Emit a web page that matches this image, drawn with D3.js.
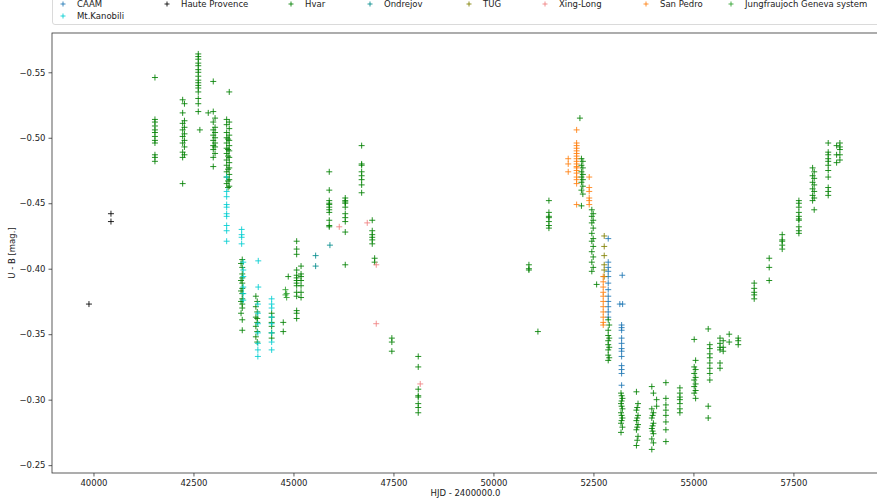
<!DOCTYPE html>
<html>
<head>
<meta charset="utf-8">
<script src="https://cdn.jsdelivr.net/npm/d3@7"></script>
<style>
  html, body { margin: 0; padding: 0; background: #fff; }
  svg { display: block; font-family: "DejaVu Sans", sans-serif; }
</style>
</head>
<body>
<svg id="chart" width="877" height="504"></svg>
<script>
// U - B colour index of the star, by observatory.
// Each entry: [HJD - 2400000, [U-B values observed in that season]]
const hauteProvence = [
  [39887, [-0.373]],
  [40437, [-0.442, -0.436]]
];

const hvar = [
  [41537, [-0.546, -0.514, -0.512, -0.509, -0.506, -0.504, -0.501, -0.498, -0.496, -0.487, -0.485, -0.482]],
  [42230, [-0.529, -0.519, -0.511, -0.506, -0.501, -0.496, -0.489, -0.485, -0.465]],
  [42275, [-0.526, -0.513, -0.508, -0.503, -0.498, -0.493, -0.487]],
  [42620, [-0.564, -0.562, -0.560, -0.557, -0.555, -0.552, -0.550, -0.547, -0.544, -0.542, -0.540, -0.538, -0.535, -0.530, -0.526, -0.520]],
  [42660, [-0.506]],
  [42870, [-0.519]],
  [42995, [-0.543, -0.520, -0.512, -0.506, -0.502, -0.498, -0.494, -0.491, -0.485, -0.478]],
  [43040, [-0.515, -0.508, -0.504, -0.500, -0.496, -0.493, -0.488]],
  [43330, [-0.514, -0.510, -0.504, -0.500, -0.496, -0.492, -0.488, -0.483, -0.479, -0.474, -0.470, -0.465]],
  [43395, [-0.535, -0.512, -0.507, -0.502, -0.498, -0.494, -0.490, -0.485, -0.481, -0.477, -0.472, -0.468, -0.463]],
  [43365, [-0.499, -0.491, -0.486, -0.476, -0.467, -0.462]],
  [43690, [-0.404, -0.391, -0.383, -0.375, -0.366]],
  [43720, [-0.407, -0.401, -0.396, -0.393, -0.389, -0.385, -0.381, -0.377, -0.373, -0.370, -0.361, -0.353]],
  [44060, [-0.379, -0.371, -0.363, -0.356, -0.348]],
  [44095, [-0.367, -0.359, -0.352, -0.344, -0.375, -0.362]],
  [44455, [-0.366, -0.363, -0.359, -0.356, -0.351, -0.347]],
  [44745, [-0.359, -0.352]],
  [44870, [-0.394]],
  [45080, [-0.421, -0.415, -0.411, -0.399, -0.395, -0.393, -0.391, -0.389, -0.387, -0.382, -0.379, -0.368, -0.366, -0.362]],
  [45190, [-0.402, -0.396, -0.394, -0.391, -0.387, -0.382, -0.378]],
  [45895, [-0.474, -0.460, -0.452, -0.450, -0.449, -0.447, -0.445, -0.443, -0.437, -0.433, -0.432]],
  [46295, [-0.454, -0.452, -0.451, -0.450, -0.447, -0.442, -0.439, -0.436, -0.428, -0.403]],
  [46705, [-0.494, -0.480, -0.479, -0.474, -0.471, -0.468, -0.464, -0.458]],
  [46970, [-0.437, -0.429, -0.426, -0.424, -0.422, -0.419]],
  [47030, [-0.408, -0.405]],
  [47460, [-0.347, -0.344, -0.337]],
  [48120, [-0.333, -0.325, -0.308, -0.303, -0.302, -0.297, -0.294, -0.290]],
  [50887, [-0.403, -0.400, -0.399]],
  [51112, [-0.352]],
  [51387, [-0.452, -0.443, -0.440, -0.439, -0.436, -0.433, -0.431]],
  [52162, [-0.515]],
  [52200, [-0.484, -0.479, -0.474, -0.470, -0.466, -0.460, -0.448]],
  [52235, [-0.482, -0.477, -0.472, -0.468, -0.463, -0.457]],
  [52460, [-0.445, -0.440, -0.435, -0.427, -0.421, -0.413, -0.405, -0.398]],
  [52495, [-0.442, -0.437, -0.431, -0.423, -0.417, -0.409, -0.401]],
  [52580, [-0.388]],
  [52870, [-0.361, -0.353, -0.349, -0.345, -0.342, -0.338, -0.334, -0.330]],
  [52895, [-0.357, -0.347, -0.340, -0.332]],
  [53190, [-0.305, -0.297, -0.290, -0.282, -0.275]],
  [53225, [-0.301, -0.293, -0.286, -0.279]],
  [53205, [-0.303, -0.299, -0.295, -0.288, -0.284]],
  [53575, [-0.306, -0.292, -0.284, -0.277, -0.265]],
  [53615, [-0.297, -0.288, -0.281, -0.272]],
  [53595, [-0.294, -0.286, -0.279, -0.269]],
  [53960, [-0.310, -0.293, -0.286, -0.278, -0.270, -0.262]],
  [54000, [-0.305, -0.290, -0.282, -0.274, -0.267]],
  [53980, [-0.288, -0.280, -0.276]],
  [54080, [-0.300, -0.295]],
  [54312, [-0.313, -0.301, -0.296, -0.292, -0.288, -0.283, -0.277, -0.268]],
  [54662, [-0.309, -0.305, -0.302, -0.300, -0.297, -0.293, -0.290]],
  [55020, [-0.346, -0.325, -0.320, -0.315, -0.310, -0.305]],
  [55055, [-0.330, -0.323, -0.317, -0.312, -0.307, -0.301]],
  [55370, [-0.354, -0.295, -0.286]],
  [55410, [-0.342, -0.339, -0.335, -0.332, -0.328, -0.324, -0.320, -0.315]],
  [55665, [-0.347, -0.343, -0.340, -0.338, -0.328, -0.324]],
  [55745, [-0.345, -0.340, -0.337]],
  [55895, [-0.350, -0.344]],
  [56120, [-0.347, -0.345, -0.342]],
  [56520, [-0.389, -0.385, -0.382, -0.380, -0.377]],
  [56895, [-0.408, -0.401, -0.391]],
  [57220, [-0.426, -0.422, -0.421, -0.418, -0.415]],
  [57637, [-0.452, -0.450, -0.447, -0.443, -0.440, -0.438, -0.437, -0.432, -0.429, -0.427]],
  [57980, [-0.477, -0.471, -0.466, -0.461, -0.456, -0.452]],
  [58020, [-0.474, -0.469, -0.464, -0.459, -0.454, -0.445]],
  [58370, [-0.496, -0.489, -0.487, -0.484, -0.482, -0.479, -0.475, -0.470, -0.462, -0.459, -0.456]],
  [58580, [-0.494, -0.487, -0.481]],
  [58662, [-0.496, -0.493, -0.491, -0.487, -0.483]]
];

const jungfraujoch = [
  [44800, [-0.384, -0.380]],
  [44830, [-0.381, -0.378]]
];

const mtKanobili = [
  [43330, [-0.470, -0.459, -0.455, -0.449, -0.447, -0.442, -0.440, -0.433, -0.429, -0.421]],
  [43705, [-0.430, -0.426, -0.424, -0.419]],
  [43745, [-0.405, -0.399, -0.394, -0.386, -0.381, -0.376]],
  [44120, [-0.406, -0.386]],
  [44110, [-0.373, -0.366, -0.358, -0.351, -0.343, -0.338, -0.333]],
  [44455, [-0.377, -0.373, -0.370, -0.363, -0.358, -0.351, -0.344, -0.338]]
];

const ondrejov = [
  [45555, [-0.410, -0.402]],
  [45912, [-0.418]]
];

const xingLong = [
  [46145, [-0.432]],
  [46845, [-0.435]],
  [47070, [-0.403, -0.358]],
  [48170, [-0.312]]
];

const sanPedro = [
  [51870, [-0.484, -0.480, -0.474]],
  [52080, [-0.506, -0.496, -0.494, -0.492, -0.490, -0.488, -0.486, -0.484, -0.482, -0.480, -0.478, -0.477, -0.475, -0.473, -0.470, -0.468, -0.465, -0.449]],
  [52395, [-0.470, -0.462, -0.459, -0.454, -0.452, -0.449]],
  [52745, [-0.394, -0.390, -0.386, -0.382, -0.379, -0.375, -0.371, -0.367, -0.363, -0.359, -0.357]]
];

const tug = [
  [52770, [-0.425, -0.417, -0.410, -0.403, -0.399, -0.394]]
];

const caam = [
  [52870, [-0.423, -0.405, -0.401, -0.398, -0.394, -0.389, -0.384, -0.379, -0.375, -0.371, -0.367, -0.363]],
  [53220, [-0.395]],
  [53160, [-0.373]],
  [53230, [-0.373]],
  [53205, [-0.357, -0.355, -0.353, -0.347, -0.343, -0.339, -0.337, -0.333, -0.326, -0.323, -0.320, -0.311]]
];

const seriesNames = ["CAAM", "Haute Provence", "Hvar", "Ondrejov", "TUG", "Xing-Long", "San Pedro", "Jungfraujoch Geneva system", "Mt.Kanobili"];
const seriesColors = ["#1f77b4", "#000000", "#008000", "#008b8b", "#808000", "#f08080", "#ff7f0e", "#2ca02c", "#00ced1"];
const seriesData = [caam, hauteProvence, hvar, ondrejov, tug, xingLong, sanPedro, jungfraujoch, mtKanobili];

const xTicks = [40000, 42500, 45000, 47500, 50000, 52500, 55000, 57500];
const yTicks = [-0.55, -0.50, -0.45, -0.40, -0.35, -0.30, -0.25];

// Layout
const plot = { left: 52, top: 33, right: 879, bottom: 473 };

const svg = d3.select("#chart");

const x = d3.scaleLinear().domain([38963, 59640]).range([plot.left, plot.right]);
const y = d3.scaleLinear().domain([-0.58, -0.244]).range([plot.top, plot.bottom]);

const fmtY = d3.format(".2f");

// "+" marker path
const plusPath = (cx, cy, r) => `M${cx - r},${cy}H${cx + r}M${cx},${cy - r}V${cy + r}`;

const marks = svg.append("g");
seriesData.forEach((ser, i) => {
  const pts = [];
  ser.forEach(([hjd, vals]) => vals.forEach(v => pts.push([hjd, v])));
  marks.append("g")
    .selectAll("path")
    .data(pts)
    .join("path")
    .attr("d", d => plusPath(x(d[0]), y(d[1]), 3))
    .attr("stroke", seriesColors[i])
    .attr("stroke-width", 1)
    .attr("stroke-opacity", 0.85)
    .attr("fill", "none");
});

// Axes
const xAxis = d3.axisBottom(x).tickValues(xTicks).tickSize(3.5).tickPadding(3).tickFormat(d3.format("d"));
const yAxis = d3.axisLeft(y).tickValues(yTicks).tickSize(3.5).tickPadding(3).tickFormat(fmtY);

const gx = svg.append("g").attr("transform", `translate(0,${plot.bottom})`).call(xAxis);
const gy = svg.append("g").attr("transform", `translate(${plot.left},0)`).call(yAxis);
[gx, gy].forEach(g => {
  g.select(".domain").remove();
  g.selectAll("line").attr("stroke", "#333").attr("stroke-width", 0.8);
  g.selectAll("text").attr("fill", "#222").style("font-size", "8.5px").style("font-family", "DejaVu Sans");
});

// Frame
svg.append("rect")
  .attr("x", plot.left).attr("y", plot.top)
  .attr("width", plot.right - plot.left).attr("height", plot.bottom - plot.top)
  .attr("fill", "none").attr("stroke", "#333").attr("stroke-width", 0.8);

// Axis titles
svg.append("text")
  .attr("x", (plot.left + plot.right) / 2).attr("y", 496)
  .attr("text-anchor", "middle").attr("fill", "#222")
  .style("font-size", "8.5px").text("HJD - 2400000.0");

svg.append("text")
  .attr("transform", `translate(15,${(plot.top + plot.bottom) / 2}) rotate(-90)`)
  .attr("text-anchor", "middle").attr("fill", "#222")
  .style("font-size", "8.5px").text("U - B [mag.]");

// Legend
const legend = svg.append("g");
legend.append("rect")
  .attr("x", 52.5).attr("y", -6).attr("width", 840).attr("height", 30.5)
  .attr("rx", 2.5).attr("fill", "#fff").attr("fill-opacity", 0.8)
  .attr("stroke", "#d0d0d0").attr("stroke-width", 0.8);

const legendX = [63, 167, 291, 370, 469, 545, 646, 731, 63];
const legendY = [4, 4, 4, 4, 4, 4, 4, 4, 16];
seriesNames.forEach((name, i) => {
  legend.append("path")
    .attr("d", plusPath(legendX[i], legendY[i], 2.5))
    .attr("stroke", seriesColors[i]).attr("stroke-opacity", 0.85).attr("stroke-width", 1);
  legend.append("text")
    .attr("x", legendX[i] + 14).attr("y", legendY[i] + 3)
    .attr("fill", "#222").style("font-size", "8.5px").text(name);
});
</script>
</body>
</html>
